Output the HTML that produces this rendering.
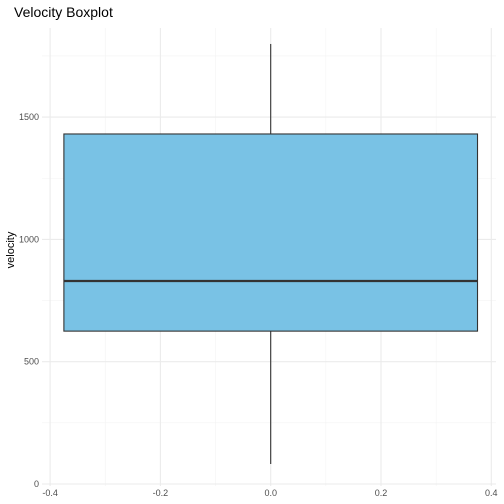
<!DOCTYPE html>
<html><head><meta charset="utf-8"><style>
body{margin:0;background:#fff;}
svg{display:block;font-family:"Liberation Sans",sans-serif;}
</style></head><body>
<svg width="504" height="504" viewBox="0 0 504 504">
<text x="14" y="17" font-size="14" fill="#000">Velocity Boxplot</text>
<text transform="translate(14,250) rotate(-90)" font-size="11" text-anchor="middle" fill="#000">velocity</text>
<g id="grid"></g>
<g id="marks"></g>
<g id="ticks"></g>
</svg>
<script>
const xTicks=[-0.4,-0.2,0,0.2,0.4];
const xTickLabels=["-0.4","-0.2","0.0","0.2","0.4"];
const yTicks=[0,500,1000,1500];
const yTickLabels=["0","500","1000","1500"];
const boxStats=[{x:0,ymin:82,lower:625,middle:830,upper:1431,ymax:1799}];
const boxHalfWidth=0.375;

const X=v=>270.7+v*551.5;
const Y=v=>484-v*0.2446;
const ns="http://www.w3.org/2000/svg";
function mk(tag,attrs,parent){const e=document.createElementNS(ns,tag);for(const k in attrs)e.setAttribute(k,attrs[k]);document.getElementById(parent).appendChild(e);return e;}
const x0=42,x1=496,yTop=28,yBot=486;
for(let i=0;i<xTicks.length-1;i++){const m=(xTicks[i]+xTicks[i+1])/2;
 const l=mk('line',{x1:X(m),x2:X(m),y1:yTop,y2:yBot,stroke:'#f3f3f3','stroke-width':0.6},'grid');
 }
for(let i=0;i<yTicks.length;i++){const m=yTicks[i]+250;
 const l=mk('line',{x1:x0,x2:x1,y1:Y(m),y2:Y(m),stroke:'#f3f3f3','stroke-width':0.6},'grid');
 }
xTicks.forEach((t,i)=>{
 const l=mk('line',{x1:X(t),x2:X(t),y1:yTop,y2:yBot,stroke:'#ebebeb','stroke-width':1.1},'grid');
 
 const tx=mk('text',{x:X(t),y:496,'font-size':9,'text-anchor':'middle',fill:'#4d4d4d'},'ticks');
 tx.textContent=xTickLabels[i];
 
});
yTicks.forEach((t,i)=>{
 const l=mk('line',{x1:x0,x2:x1,y1:Y(t),y2:Y(t),stroke:'#ebebeb','stroke-width':1.1},'grid');
 
 const tx=mk('text',{x:39,y:Y(t)+3,'font-size':9,'text-anchor':'end',fill:'#4d4d4d'},'ticks');
 tx.textContent=yTickLabels[i];
 
});
boxStats.forEach(b=>{
 const w1=mk('line',{x1:X(b.x),x2:X(b.x),y1:Y(b.upper),y2:Y(b.ymax),stroke:'#333','stroke-width':1.1},'marks');
 
 const w2=mk('line',{x1:X(b.x),x2:X(b.x),y1:Y(b.lower),y2:Y(b.ymin),stroke:'#333','stroke-width':1.1},'marks');
 
 const r=mk('rect',{x:X(b.x-boxHalfWidth),y:Y(b.upper),width:X(b.x+boxHalfWidth)-X(b.x-boxHalfWidth),height:Y(b.lower)-Y(b.upper),fill:'#79c2e5',stroke:'#333','stroke-width':1.1},'marks');
 
 const m=mk('line',{x1:X(b.x-boxHalfWidth),x2:X(b.x+boxHalfWidth),y1:Y(b.middle),y2:Y(b.middle),stroke:'#333','stroke-width':2.2},'marks');
 
});
</script>
</body></html>
